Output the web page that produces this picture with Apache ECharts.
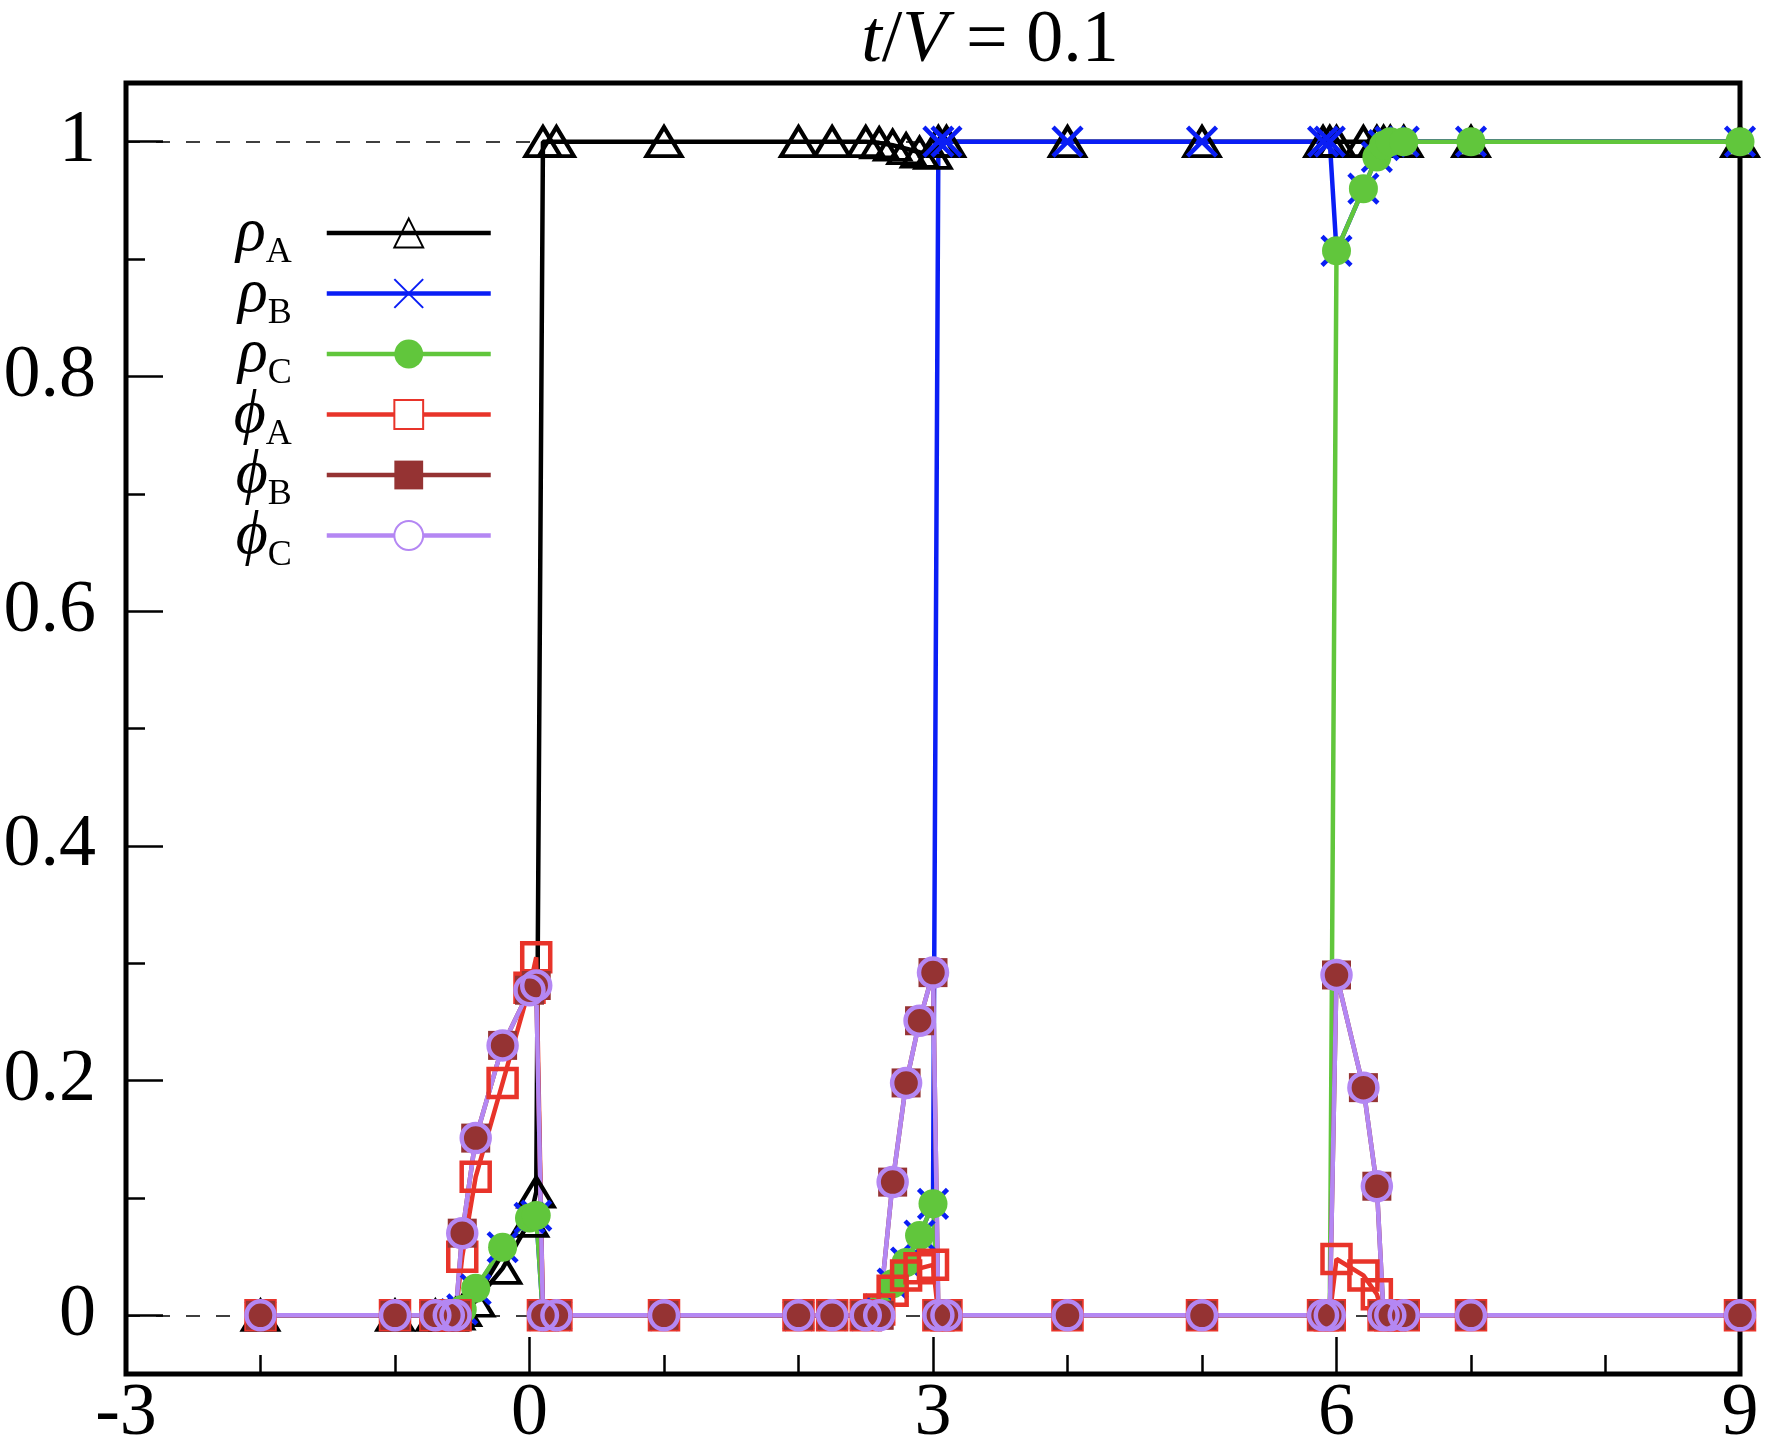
<!DOCTYPE html>
<html lang="en">
<head>
<meta charset="UTF-8">
<title>t/V = 0.1</title>
<style>
  html, body { margin: 0; padding: 0; background: #fff; }
  #main { width: 1772px; height: 1452px; }
</style>
</head>
<body>
<div id="main"></div>
<script src="https://cdn.jsdelivr.net/npm/echarts@6/dist/echarts.min.js"></script>
<script>
    // x grid shared by all six curves
    var xVals = [-2, -1, -0.7, -0.6, -0.55, -0.5, -0.4, -0.2, 0, 0.05, 0.1, 0.2, 1,
                 2, 2.25, 2.5, 2.6, 2.7, 2.8, 2.9, 3, 3.04, 3.1, 4, 5,
                 5.9, 5.95, 6, 6.2, 6.3, 6.35, 6.4, 6.5, 7, 9];

    var rhoA = [0, 0, 0, 0, 0.001, 0.004, 0.012, 0.04, 0.08, 0.105, 1, 1, 1,
                1, 1, 1, 0.999, 0.997, 0.994, 0.991, 0.99, 1, 1, 1, 1,
                1, 1, 1, 1, 1, 1, 1, 1, 1, 1];
    var rhoB = [0, 0, 0, 0, 0.001, 0.005, 0.022, 0.058, 0.083, 0.085, 0, 0, 0,
                0, 0, 0, 0.005, 0.027, 0.045, 0.068, 0.095, 1, 1, 1, 1,
                1, 1, 0.907, 0.96, 0.987, 0.997, 1, 1, 1, 1];
    var rhoC = [0, 0, 0, 0, 0.001, 0.005, 0.023, 0.058, 0.083, 0.085, 0, 0, 0,
                0, 0, 0, 0.005, 0.027, 0.045, 0.068, 0.095, 0, 0, 0, 0,
                0, 0, 0.907, 0.96, 0.987, 0.997, 1, 1, 1, 1];
    var phiA = [0, 0, 0, 0, 0, 0.05, 0.118, 0.198, 0.279, 0.305, 0, 0, 0,
                0, 0, 0, 0.005, 0.021, 0.034, 0.04, 0.043, 0, 0, 0, 0,
                0, 0, 0.048, 0.034, 0.018, 0, 0, 0, 0, 0];
    var phiB = [0, 0, 0, 0, 0, 0.07, 0.151, 0.23, 0.277, 0.281, 0, 0, 0,
                0, 0, 0, 0, 0.1135, 0.198, 0.251, 0.292, 0, 0, 0, 0,
                0, 0, 0.29, 0.194, 0.11, 0, 0, 0, 0, 0];
    var phiC = [0, 0, 0, 0, 0, 0.07, 0.151, 0.23, 0.277, 0.281, 0, 0, 0,
                0, 0, 0, 0, 0.1135, 0.198, 0.251, 0.292, 0, 0, 0, 0,
                0, 0, 0.29, 0.194, 0.11, 0, 0, 0, 0, 0];

    var yMajorTicks = [0, 0.2, 0.4, 0.6, 0.8, 1];
    var yMinorTicks = [0.1, 0.3, 0.5, 0.7, 0.9];
    var refLines = [0, 1];

    var names = ['ρA', 'ρB', 'ρC', 'ϕA', 'ϕB', 'ϕC'];
    var FONT = 'Liberation Serif';
    var LW = 4.5;

    function pairs(ys) {
        var out = [];
        for (var i = 0; i < xVals.length; i++) out.push([xVals[i], ys[i]]);
        return out;
    }

    function lineSeries(name, ys, color, symbol, size, itemStyle) {
        return {
            name: name, type: 'line', data: pairs(ys), z: 3,
            symbol: symbol, symbolSize: size, showAllSymbol: true,
            lineStyle: {color: color, width: LW},
            itemStyle: itemStyle,
            emphasis: {disabled: true}
        };
    }

    var series = [];
    // dashed guides at 0 and 1, kept under the curves
    series.push({
        type: 'line', data: [], z: 1, silent: true,
        markLine: {
            silent: true, symbol: 'none', label: {show: false}, z: 1,
            lineStyle: {color: '#000', width: 1.5, type: [14, 16]},
            data: refLines.map(function (v) { return {yAxis: v}; })
        }
    });
    series.push(lineSeries(names[0], rhoA, '#000000', 'triangle', [35, 29],
        {color: 'rgba(0,0,0,0)', borderColor: '#000000', borderWidth: 4}));
    series.push(lineSeries(names[1], rhoB, '#0a1ef5', 'path://M0,0L10,10M10,0L0,10', 29,
        {color: '#0a1ef5', borderColor: '#0a1ef5', borderWidth: 4.5}));
    series.push(lineSeries(names[2], rhoC, '#61c63c', 'circle', 29,
        {color: '#61c63c'}));
    series.push(lineSeries(names[3], phiA, '#e8342a', 'rect', 28,
        {color: 'rgba(0,0,0,0)', borderColor: '#e8342a', borderWidth: 4.5}));
    series.push(lineSeries(names[4], phiB, '#953333', 'rect', 29,
        {color: '#953333'}));
    series.push(lineSeries(names[5], phiC, '#b487f3', 'circle', 28,
        {color: 'rgba(0,0,0,0)', borderColor: '#b487f3', borderWidth: 4.5}));

    var option = {
        backgroundColor: '#fff',
        animation: false,
        grid: {left: 126, right: 32, top: 83, bottom: 78, show: true,
               borderColor: '#000', borderWidth: 5, backgroundColor: 'transparent'},
        xAxis: {
            type: 'value', min: -3, max: 9, interval: 3,
            axisLine: {show: false, onZero: false},
            axisTick: {inside: true, length: 37, lineStyle: {color: '#000', width: 2.5}},
            minorTick: {show: true, splitNumber: 3, length: 19, lineStyle: {color: '#000', width: 2.5}},
            splitLine: {show: false},
            axisLabel: {margin: 4, fontFamily: FONT, fontSize: 74, color: '#000'}
        },
        yAxis: [{
            type: 'value', min: -0.05, max: 1.05,
            axisLine: {show: false, onZero: false},
            axisTick: {inside: true, length: 37, customValues: yMajorTicks,
                       lineStyle: {color: '#000', width: 2.5}},
            splitLine: {show: false},
            axisLabel: {margin: 30, fontFamily: FONT, fontSize: 74, color: '#000',
                        customValues: yMajorTicks}
        }, {
            type: 'value', min: -0.05, max: 1.05, position: 'left',
            axisLine: {show: false, onZero: false},
            axisTick: {inside: true, length: 19, customValues: yMinorTicks,
                       lineStyle: {color: '#000', width: 2.5}},
            splitLine: {show: false},
            axisLabel: {show: false}
        }],
        legend: {
            orient: 'vertical', right: 1279, top: 203, padding: 0,
            align: 'right', itemWidth: 164, itemHeight: 36, itemGap: -7.5,
            selectedMode: false,
            lineStyle: {width: LW},
            data: [
                {name: names[0]},
                {name: names[1]},
                {name: names[2]},
                {name: names[3], itemStyle: {color: '#fff'}},
                {name: names[4]},
                {name: names[5], itemStyle: {color: '#fff'}}
            ],
            formatter: function (name) {
                return '{g|' + name.charAt(0) + '}{s|' + name.charAt(1) + '}{sp|}';
            },
            textStyle: {
                rich: {
                    g: {fontFamily: FONT, fontStyle: 'italic', fontSize: 62, lineHeight: 40,
                        verticalAlign: 'top', color: '#000'},
                    s: {fontFamily: FONT, fontSize: 36, lineHeight: 10, padding: [32, 0, 0, 0],
                        verticalAlign: 'top', color: '#000'},
                    sp: {width: 30, lineHeight: 60, fontSize: 10}
                }
            }
        },
        graphic: [{
            type: 'text', x: 990, y: 42,
            style: {
                text: '{i|t}/{i|V} = 0.1',
                textAlign: 'center', textVerticalAlign: 'middle',
                font: '74px "Liberation Serif"', fill: '#000',
                rich: {i: {fontFamily: FONT, fontStyle: 'italic', fontSize: 74, fill: '#000'}}
            }
        }],
        series: series
    };

    var chart = echarts.init(document.getElementById('main'));
    chart.setOption(option);
</script>
</body>
</html>
